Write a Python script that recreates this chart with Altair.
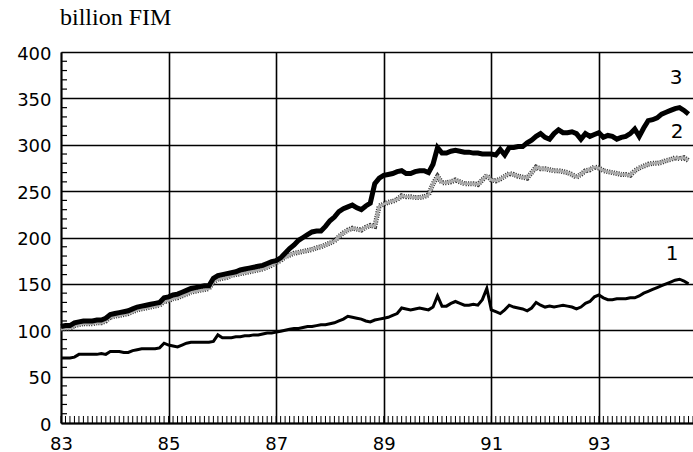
import altair as alt
import pandas as pd

# Monthly observations, Jan 1983 onwards (x expressed as two-digit year + month/12)
START_YEAR = 83

series_1 = [
    70, 70, 70, 71, 74, 74, 74, 74, 74, 75, 74, 77,          # 83
    77, 77, 76, 76, 78, 79, 80, 80, 80, 80, 81, 86,          # 84
    84, 83, 82, 84, 86, 87, 87, 87, 87, 87, 88, 95,          # 85
    92, 92, 92, 93, 93, 94, 94, 95, 95, 96, 97, 97,          # 86
    98, 99, 100, 101, 102, 102, 103, 104, 104, 105, 106, 106,  # 87
    107, 108, 110, 112, 115, 114, 113, 112, 110, 109, 111, 112,  # 88
    113, 114, 116, 118, 124, 123, 122, 123, 124, 123, 122, 125,  # 89
    137, 126, 126, 129, 131, 129, 127, 127, 128, 127, 133, 145,  # 90
    122, 120, 118, 122, 127, 125, 124, 123, 121, 124, 130, 127,  # 91
    125, 126, 125, 126, 127, 126, 125, 123, 125, 129, 131, 136,  # 92
    138, 135, 133, 133, 134, 134, 134, 135, 135, 137, 140, 142,  # 93
    144, 146, 148, 150, 152, 154, 155, 153, 150,                 # 94
]

series_2 = [
    101, 102, 102, 105, 106, 107, 107, 107, 108, 108, 110, 114,  # 83
    115, 116, 117, 118, 120, 122, 123, 124, 125, 126, 127, 131,  # 84
    132, 134, 135, 137, 139, 141, 142, 143, 144, 145, 152, 155,  # 85
    156, 157, 159, 160, 161, 162, 163, 164, 165, 166, 168, 170,  # 86
    173, 175, 179, 181, 183, 184, 185, 186, 187, 189, 190, 192,  # 87
    194, 196, 201, 205, 208, 210, 209, 208, 211, 213, 212, 234,  # 88
    236, 238, 239, 241, 245, 244, 244, 243, 243, 244, 246, 258,  # 89
    266, 259, 259, 260, 262, 260, 258, 258, 258, 257, 262, 267,  # 90
    262, 261, 263, 266, 269, 268, 266, 265, 264, 270, 276, 274,  # 91
    274, 273, 272, 272, 271, 270, 268, 265, 268, 272, 273, 276,  # 92
    275, 272, 271, 270, 269, 268, 268, 267, 272, 275, 277, 279,  # 93
    280, 280, 281, 283, 284, 286, 285, 286, 283,                 # 94
]

series_3 = [
    104, 105, 105, 108, 109, 110, 110, 110, 111, 111, 113, 117,  # 83
    118, 119, 120, 121, 123, 125, 126, 127, 128, 129, 130, 135,  # 84
    136, 138, 139, 141, 143, 145, 146, 147, 148, 148, 156, 159,  # 85
    160, 161, 162, 163, 165, 166, 167, 168, 169, 170, 172, 174,  # 86
    175, 178, 183, 188, 192, 197, 200, 203, 206, 207, 207, 212,  # 87
    218, 222, 228, 231, 233, 235, 232, 230, 234, 237, 258, 264,  # 88
    267, 268, 269, 271, 272, 269, 269, 271, 272, 272, 270, 279,  # 89
    297, 291, 291, 293, 294, 293, 292, 292, 291, 291, 290, 290,  # 90
    290, 289, 295, 289, 297, 297, 298, 298, 302, 305, 309, 312,  # 91
    308, 306, 312, 316, 313, 313, 314, 312, 306, 312, 309, 311,  # 92
    313, 308, 310, 309, 306, 308, 309, 312, 317, 309, 318, 326,  # 93
    327, 329, 333, 335, 337, 339, 340, 337, 333,                 # 94
]

x_labels = [83, 85, 87, 89, 91, 93]
y_labels = [0, 50, 100, 150, 200, 250, 300, 350, 400]
x_domain = [83, 94.75]
y_domain = [0, 400]

W, H = 632, 371
FONT = "DejaVu Sans"

months = [START_YEAR + i / 12 for i in range(len(series_1))]
df = pd.DataFrame({
    "t": months * 3,
    "value": series_1 + series_2 + series_3,
    "series": ["1"] * len(series_1) + ["2"] * len(series_2) + ["3"] * len(series_3),
})

x_scale = alt.Scale(domain=x_domain, nice=False, zero=False)
y_scale = alt.Scale(domain=y_domain, nice=False)

x_axis = alt.Axis(values=x_labels, format="d", grid=True, gridColor="black",
                  gridWidth=1.6, gridOpacity=1, domainColor="black", domainWidth=1.8,
                  ticks=False, labelFont=FONT, labelFontSize=18, labelColor="black",
                  labelPadding=12, labelFlush=False, labelOverlap=False, title=None)
y_axis = alt.Axis(values=y_labels, grid=True, gridColor="black", gridWidth=1.6,
                  gridOpacity=1, domainColor="black", domainWidth=1.8, ticks=False,
                  labelFont=FONT, labelFontSize=18, labelColor="black",
                  labelPadding=10, labelOffset=2, labelFlush=False,
                  labelOverlap=False, title=None)

base = alt.Chart(df).encode(
    x=alt.X("t:Q", scale=x_scale, axis=x_axis),
    y=alt.Y("value:Q", scale=y_scale, axis=y_axis),
)

# series 2: stippled grey band (dark dotted rim + grey core)
s2 = base.transform_filter(alt.datum.series == "2")
s2_rim = s2.mark_line(color="#3a3a3a", strokeWidth=5, strokeDash=[1.2, 1.2])
s2_core = s2.mark_line(color="#ababab", strokeWidth=2.6)

s1 = base.transform_filter(alt.datum.series == "1").mark_line(
    color="black", strokeWidth=3)
s3 = base.transform_filter(alt.datum.series == "3").mark_line(
    color="black", strokeWidth=5)

# inward minor ticks: monthly on x, every 10 on y
month_ticks = pd.DataFrame({"m": [START_YEAR + i / 12 for i in range(142)]})
x_minor = alt.Chart(month_ticks).mark_rule(color="black", strokeWidth=1).encode(
    x=alt.X("m:Q", scale=x_scale, axis=x_axis),
    y=alt.value(H), y2=alt.value(H - 7),
)
y_ticks = pd.DataFrame({"v": [v for v in range(10, 400, 10) if v % 50]})
y_minor = alt.Chart(y_ticks).mark_rule(color="black", strokeWidth=1.2).encode(
    y=alt.Y("v:Q", scale=y_scale, axis=y_axis),
    x=alt.value(0), x2=alt.value(6),
)

unit = alt.Chart(pd.DataFrame({"k": [0]})).mark_text(
    text="billion FIM", font="Liberation Serif", fontSize=24, align="left",
    baseline="alphabetic", color="black",
).encode(x=alt.value(-1), y=alt.value(-27))

def tag(label, px, py):
    return alt.Chart(pd.DataFrame({"k": [0]})).mark_text(
        text=label, font=FONT, fontSize=20, align="center", baseline="middle",
        color="black",
    ).encode(x=alt.value(px), y=alt.value(py))

chart = alt.layer(
    s2_rim, s2_core, s1, s3, y_minor, x_minor, unit,
    tag("3", 615, 26), tag("2", 616, 80), tag("1", 611, 202),
).properties(
    width=W, height=H,
    autosize=alt.AutoSizeParams(type="none"),
    padding={"left": 61, "top": 52, "right": 0, "bottom": 29},
).configure_view(stroke=None)

chart.save("out.html", embed_options={"renderer": "svg", "actions": False})
